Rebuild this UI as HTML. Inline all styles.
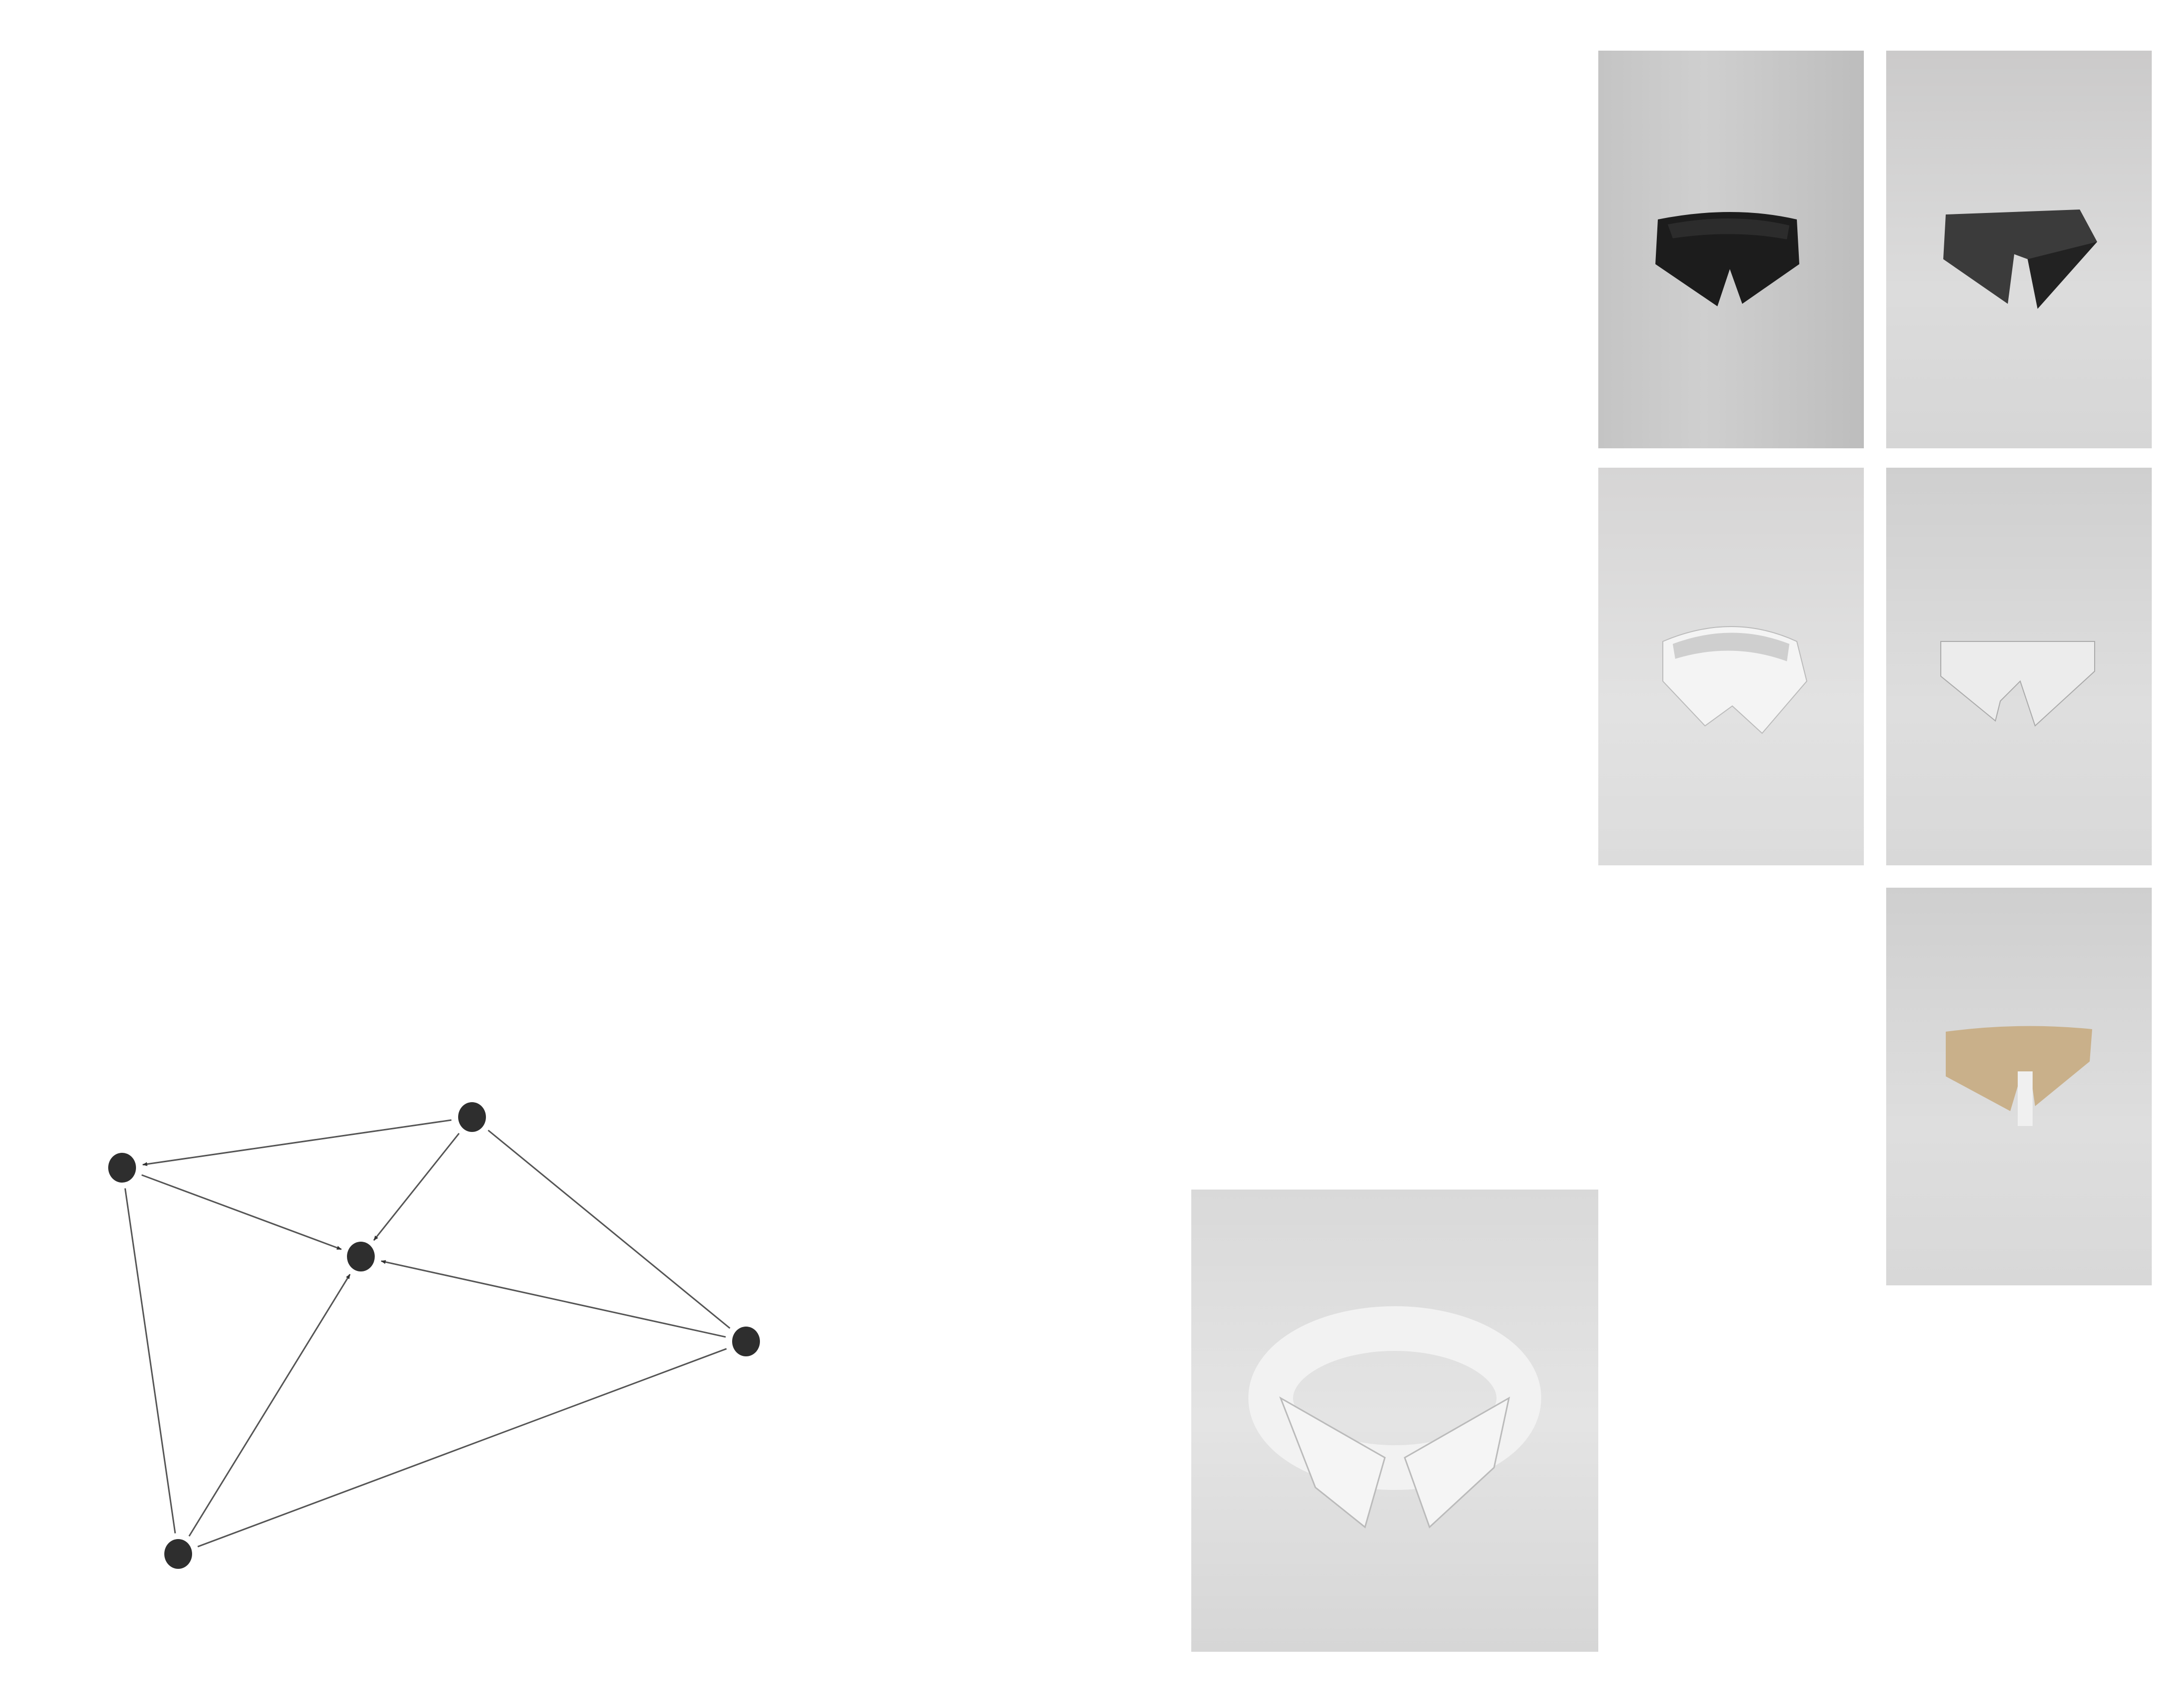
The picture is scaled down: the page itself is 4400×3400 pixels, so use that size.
<!DOCTYPE html>
<html><head><meta charset="utf-8">
<style>
html,body{margin:0;padding:0;background:#fff;}
body{width:4400px;height:3400px;position:relative;overflow:hidden;font-family:"Liberation Sans",sans-serif;}
.photo{position:absolute;overflow:hidden;}
</style></head>
<body>
<svg id="graph" width="4400" height="3400" style="position:absolute;left:0;top:0">
<defs>
<marker id="arr" markerWidth="10" markerHeight="8" refX="9" refY="4" orient="auto" markerUnits="userSpaceOnUse">
<path d="M0,0 L10,4 L0,8 z" fill="#333"/></marker>
</defs>
<g id="edges"></g>
<g id="nodes"></g>
</svg>

<div class="photo" style="left:3220px;top:102px;width:535px;height:801px;background:linear-gradient(90deg,#c4c4c4,#cfcfcf 40%,#bdbdbd)">
<svg width="535" height="801"><path d="M120,340 Q270,310 400,340 L405,430 L290,510 L265,440 L240,515 L115,430 Z" fill="#1c1c1c"/><path d="M140,350 Q270,325 385,352 L380,380 Q270,360 150,378Z" fill="#2c2c2c"/></svg></div>
<div class="photo" style="left:3800px;top:102px;width:535px;height:801px;background:linear-gradient(180deg,#cbcaca,#dcdcdc 60%,#d6d6d6)">
<svg width="535" height="801"><path d="M120,330 L390,320 L425,385 L305,520 L285,420 L258,410 L245,510 L115,420 Z" fill="#3b3b3b"/><path d="M285,420 L425,385 L305,520Z" fill="#222"/></svg></div>
<div class="photo" style="left:3220px;top:942px;width:535px;height:801px;background:linear-gradient(180deg,#d6d5d5,#e2e2e2 60%,#dcdcdc)">
<svg width="535" height="801"><path d="M130,350 Q270,290 400,350 L420,430 L330,535 L270,480 L215,520 L130,430 Z" fill="#f4f4f4" stroke="#bbb" stroke-width="2"/><path d="M150,355 Q270,310 385,355 L380,390 Q270,350 155,385Z" fill="#cfcfcf"/></svg></div>
<div class="photo" style="left:3800px;top:942px;width:535px;height:801px;background:linear-gradient(180deg,#cfcfcf,#dedede 60%,#d8d8d8)">
<svg width="535" height="801"><path d="M110,350 L420,350 L420,410 L300,520 L270,430 L230,470 L220,510 L110,420 Z" fill="#ececec" stroke="#aaa" stroke-width="2"/></svg></div>
<div class="photo" style="left:3800px;top:1788px;width:535px;height:801px;background:linear-gradient(180deg,#cfcfcf,#dedede 60%,#d8d8d8)">
<svg width="535" height="801"><path d="M120,290 Q270,270 415,285 L410,350 L300,440 L290,370 L265,400 L250,450 L120,380 Z" fill="#c9b08a"/><rect x="265" y="370" width="30" height="110" fill="#f0f0f0"/></svg></div>
<div class="photo" style="left:2400px;top:2396px;width:820px;height:931px;background:linear-gradient(180deg,#d9d9d9,#e4e4e4 50%,#d6d6d6)">
<svg width="820" height="931"><ellipse cx="410" cy="420" rx="250" ry="140" fill="none" stroke="#f2f2f2" stroke-width="90"/><path d="M180,420 L390,540 L350,680 L250,600 Z" fill="#f5f5f5" stroke="#bbb" stroke-width="3"/><path d="M640,420 L430,540 L480,680 L610,560 Z" fill="#f5f5f5" stroke="#bbb" stroke-width="3"/></svg></div>

<script>
const nodeX = [246, 951, 727, 1503, 359];
const nodeY = [2352, 2250, 2531, 2702, 3130];
const edgeFrom = [1, 0, 1, 3, 4, 1, 0, 4];
const edgeTo   = [0, 2, 2, 2, 2, 3, 4, 3];
const edgeArrow = [1, 1, 1, 1, 1, 0, 0, 0];
const R = 28;
const NS = 'http://www.w3.org/2000/svg';
const eg = document.getElementById('edges');
const ng = document.getElementById('nodes');
for (let i = 0; i < edgeFrom.length; i++) {
  const x1 = nodeX[edgeFrom[i]], y1 = nodeY[edgeFrom[i]];
  const x2 = nodeX[edgeTo[i]], y2 = nodeY[edgeTo[i]];
  const d = Math.hypot(x2 - x1, y2 - y1);
  const ux = (x2 - x1) / d, uy = (y2 - y1) / d;
  const off = R + 14;
  const l = document.createElementNS(NS, 'line');
  l.setAttribute('x1', x1 + ux * off); l.setAttribute('y1', y1 + uy * off);
  l.setAttribute('x2', x2 - ux * off); l.setAttribute('y2', y2 - uy * off);
  l.setAttribute('stroke', '#555'); l.setAttribute('stroke-width', '3');
  if (edgeArrow[i]) l.setAttribute('marker-end', 'url(#arr)');
  
  
  eg.appendChild(l);
}
for (let i = 0; i < nodeX.length; i++) {
  const c = document.createElementNS(NS, 'ellipse');
  c.setAttribute('cx', nodeX[i]); c.setAttribute('cy', nodeY[i]);
  c.setAttribute('rx', R); c.setAttribute('ry', R + 2);
  c.setAttribute('fill', '#2e2e2e');
  
  
  ng.appendChild(c);
}
</script>
</body></html>
